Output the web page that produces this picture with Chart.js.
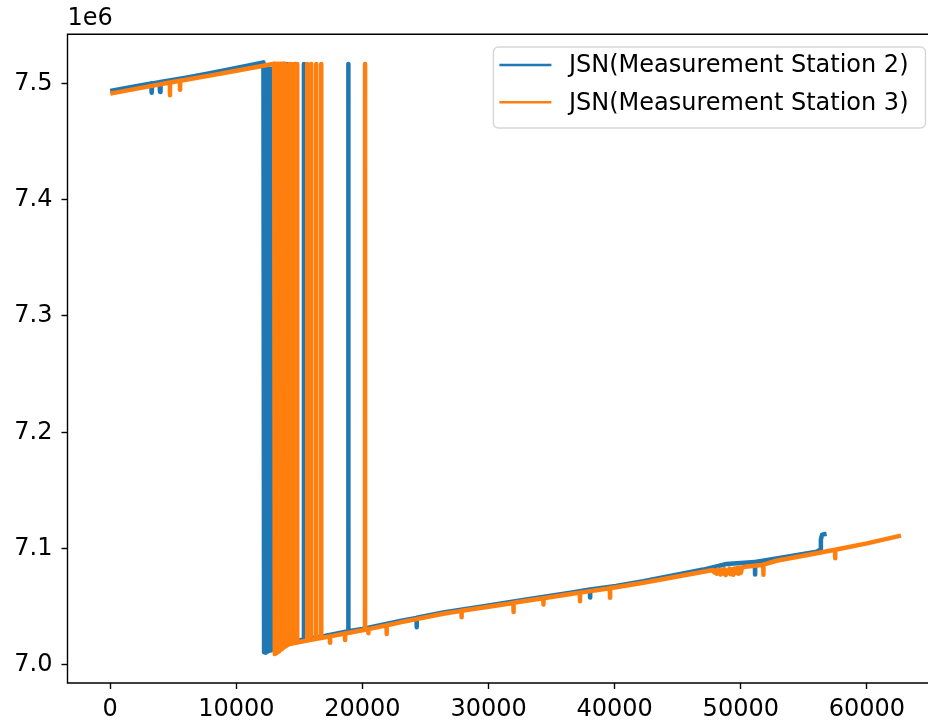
<!DOCTYPE html>
<html>
<head>
<meta charset="utf-8">
<script src="https://cdn.jsdelivr.net/npm/chart.js@4.4.1/dist/chart.umd.min.js"></script>
<style>
  html, body { margin: 0; padding: 0; background: #fff; overflow: hidden; }
  #chart { display: block; }
</style>
</head>
<body>
<canvas id="chart" width="947" height="725"></canvas>
<script>
// y values are in units of 1e6 (shown as the "1e6" offset above the axis)
const seriesLabels = ["JSN(Measurement Station 2)", "JSN(Measurement Station 3)"];
const seriesColors = ["#1f77b4", "#ff7f0e"];
const xTicks = [0, 10000, 20000, 30000, 40000, 50000, 60000];
const yTicks = [7.0, 7.1, 7.2, 7.3, 7.4, 7.5];

const station2X = [
  0, 1600, 3250, 3290, 3330, 3910, 3950, 3990, 6000, 8000, 10000, 12150,
  12200, 12260, 12320, 12380, 12440, 12500, 12560, 12620, 12680, 12740,
  12800, 12860, 12920, 12980, 13040, 13100, 13160,
  13500, 13960, 13975, 13990, 14680, 14690, 14700, 15345, 15355, 15365,
  17000, 18870, 18880, 18890, 20000, 23000, 24290, 24300, 24310, 26400,
  30000, 33000, 36500, 38040, 38050, 38060, 40100, 42270, 47030, 48860,
  51120, 51130, 51140, 52820, 56020, 56290, 56350, 56450, 56800
];
const station2Y = [
  7.4935, 7.4967, 7.4998, 7.4918, 7.4999, 7.5010, 7.4925, 7.5011, 7.5048, 7.5088, 7.5132, 7.5180,
  7.0110, 7.5125, 7.0105, 7.5125, 7.0115, 7.5125, 7.0120, 7.5125, 7.0125, 7.5125,
  7.0130, 7.5125, 7.0135, 7.5125, 7.0145, 7.5125, 7.0155,
  7.0175, 7.0190, 7.5165, 7.0190, 7.0205, 7.5165, 7.0205, 7.0220, 7.5165, 7.0220,
  7.0250, 7.0290, 7.5165, 7.0290, 7.0310, 7.0378, 7.0405, 7.0325, 7.0406, 7.0452,
  7.0512, 7.0564, 7.0622, 7.0648, 7.0580, 7.0649, 7.0680, 7.0720, 7.0820, 7.0868,
  7.0885, 7.0778, 7.0886, 7.0915, 7.0973, 7.0990, 7.1080, 7.1120, 7.1128
];

const station3X = [
  0, 1600, 3300, 4730, 4740, 4750, 5525, 5535, 5545, 8000, 10000, 13000,
  13050, 13110, 13170, 13230, 13290, 13350, 13410, 13470, 13530, 13590,
  13650, 13710, 13770, 13806, 13840,
  14190, 14196, 14202, 14350, 14354, 14358, 14588, 14592, 14596,
  14826, 14830, 14834, 15619, 15623, 15627, 15936, 15940, 15944,
  16332, 16336, 16340, 16729, 16733, 16737, 17420, 17430, 17440,
  18610, 18620, 18630, 20000, 20202, 20206, 20210, 20460, 20470, 20480,
  21910, 21920, 21930, 23000, 26400, 27850, 27860, 27870, 30000,
  31970, 31980, 31990, 33000, 34340, 34350, 34360, 36500, 37240, 37250, 37260,
  39620, 39630, 39640, 40100, 42270, 47030, 47800, 47900, 48000, 48100, 48200,
  48300, 48400, 48500, 48600, 48700, 48800, 48900, 49000, 49100, 49200,
  49300, 49400, 49500, 49600, 49700, 49800, 49900, 50000, 50100, 50200,
  51780, 51790, 51800, 52820, 56020,
  57470, 57480, 57490, 60000, 62700
];
const station3Y = [
  7.4911, 7.4943, 7.4978, 7.5006, 7.4898, 7.5006, 7.5021, 7.4945, 7.5021, 7.5068, 7.5108, 7.5168,
  7.0095, 7.5168, 7.0100, 7.5168, 7.0110, 7.5168, 7.0120, 7.5168, 7.0130, 7.5168,
  7.0140, 7.5168, 7.0150, 7.5168, 7.0157,
  7.0180, 7.5165, 7.0180, 7.0183, 7.5165, 7.0183, 7.0188, 7.5165, 7.0188,
  7.0193, 7.5165, 7.0193, 7.0210, 7.5165, 7.0210, 7.0216, 7.5165, 7.0216,
  7.0224, 7.5165, 7.0224, 7.0232, 7.5165, 7.0232, 7.0246, 7.0192, 7.0246,
  7.0270, 7.0215, 7.0270, 7.0298, 7.0302, 7.5165, 7.0302, 7.0308, 7.0273, 7.0308,
  7.0340, 7.0267, 7.0340, 7.0366, 7.0440, 7.0465, 7.0410, 7.0466, 7.0500,
  7.0533, 7.0455, 7.0534, 7.0552, 7.0574, 7.0520, 7.0574, 7.0610, 7.0622, 7.0548, 7.0622,
  7.0660, 7.0578, 7.0661, 7.0668, 7.0707, 7.0802, 7.0816, 7.0795, 7.0812, 7.0784, 7.0820,
  7.0790, 7.0778, 7.0818, 7.0786, 7.0824, 7.0772, 7.0812, 7.0790, 7.0828, 7.0780,
  7.0822, 7.0776, 7.0830, 7.0792, 7.0834, 7.0784, 7.0838, 7.0790, 7.0836, 7.0842,
  7.0862, 7.0775, 7.0862, 7.0896, 7.0960,
  7.0990, 7.0917, 7.0990, 7.1045, 7.1112
];

const FONT = '"DejaVu Sans", sans-serif';
Chart.defaults.font.family = FONT;
Chart.defaults.font.size = 24;
Chart.defaults.color = '#000';

function toPoints(xs, ys) {
  return xs.map((x, i) => ({ x: x, y: ys[i] }));
}

// axes frame, offset text and the legend box in the upper right corner
const decorations = {
  id: 'decorations',
  afterDraw(chart) {
    const { ctx, chartArea: a } = chart;
    ctx.save();

    // left, top and bottom spines (the right one falls past the canvas edge)
    ctx.beginPath();
    ctx.moveTo(a.right, a.top);
    ctx.lineTo(a.left, a.top);
    ctx.lineTo(a.left, a.bottom);
    ctx.lineTo(a.right, a.bottom);
    ctx.strokeStyle = '#000';
    ctx.lineWidth = 1.4;
    ctx.stroke();

    ctx.fillStyle = '#000';
    ctx.font = '24px ' + FONT;
    ctx.textAlign = 'left';
    ctx.textBaseline = 'alphabetic';
    ctx.fillText('1e6', a.left, a.top - 9);

    const textW = Math.max(...seriesLabels.map(t => ctx.measureText(t).width));
    const boxW = 75.5 + textW + 17;
    const boxH = 81;
    const boxL = a.right - 15 - boxW;
    const boxT = a.top + 12.7;
    ctx.beginPath();
    ctx.roundRect(boxL, boxT, boxW, boxH, 5);
    ctx.closePath();
    ctx.fillStyle = 'rgba(255,255,255,0.8)';
    ctx.fill();
    ctx.strokeStyle = 'rgba(204,204,204,0.8)';
    ctx.lineWidth = 1.4;
    ctx.stroke();

    ctx.textBaseline = 'middle';
    seriesLabels.forEach((label, i) => {
      const y = boxT + 18 + i * 37.3;
      ctx.beginPath();
      ctx.moveTo(boxL + 6, y);
      ctx.lineTo(boxL + 58, y);
      ctx.strokeStyle = seriesColors[i];
      ctx.lineWidth = 2.6;
      ctx.stroke();
      ctx.fillStyle = '#000';
      ctx.fillText(label, boxL + 75.5, y + 1);
    });
    ctx.restore();
  }
};

new Chart(document.getElementById('chart'), {
  type: 'line',
  data: {
    datasets: [
      {
        label: seriesLabels[0],
        data: toPoints(station2X, station2Y),
        borderColor: seriesColors[0],
        borderWidth: 4.5,
        borderJoinStyle: 'round',
        pointRadius: 0,
        tension: 0,
        order: 2
      },
      {
        label: seriesLabels[1],
        data: toPoints(station3X, station3Y),
        borderColor: seriesColors[1],
        borderWidth: 4.5,
        borderJoinStyle: 'round',
        pointRadius: 0,
        tension: 0,
        order: 1
      }
    ]
  },
  options: {
    responsive: false,
    animation: false,
    events: [],
    layout: { padding: { top: 34.3, right: 6.5, left: 0, bottom: 0 } },
    plugins: {
      legend: { display: false },
      tooltip: { enabled: false }
    },
    scales: {
      x: {
        type: 'linear',
        min: -3386,
        max: 65835,
        afterBuildTicks: s => { s.ticks = xTicks.map(v => ({ value: v })); },
        afterFit: s => { s.height = 42; },
        border: { display: false },
        grid: { drawOnChartArea: false, drawTicks: true, tickLength: 6, tickWidth: 1.4, tickColor: '#000' },
        ticks: { padding: 6, maxRotation: 0, autoSkip: false, callback: v => String(v) }
      },
      y: {
        type: 'linear',
        min: 6.9845,
        max: 7.5421,
        afterBuildTicks: s => { s.ticks = yTicks.map(v => ({ value: v })); },
        afterFit: s => { s.width = 67.5; },
        border: { display: false },
        grid: { drawOnChartArea: false, drawTicks: true, tickLength: 6, tickWidth: 1.4, tickColor: '#000' },
        ticks: { padding: 9, autoSkip: false, callback: v => v.toFixed(1) }
      }
    }
  },
  plugins: [decorations]
});
</script>
</body>
</html>
